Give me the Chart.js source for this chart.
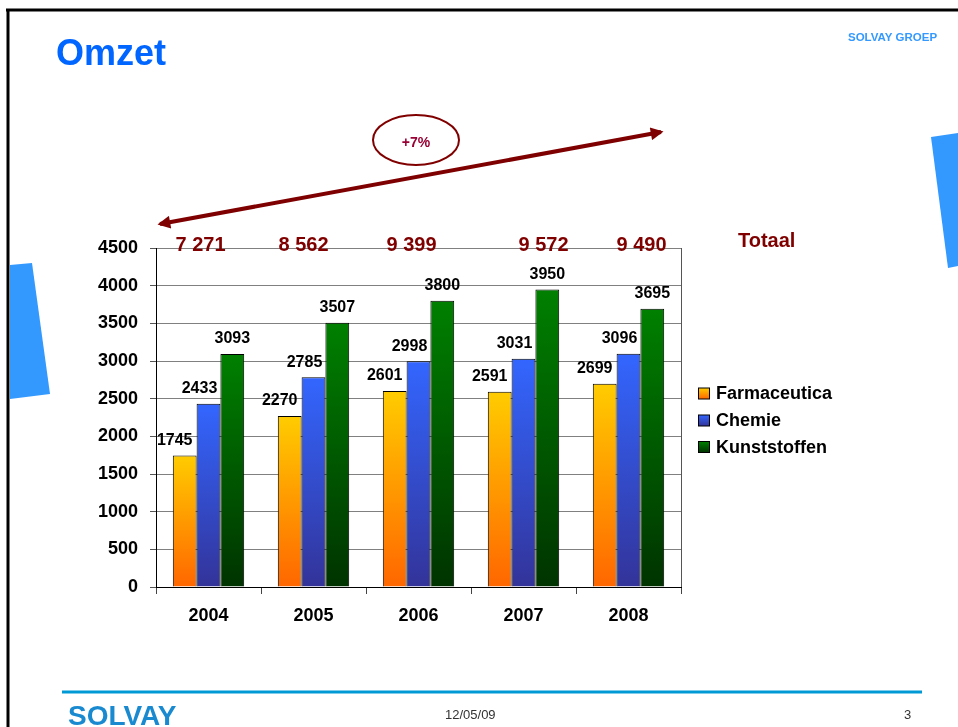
<!DOCTYPE html>
<html>
<head>
<meta charset="utf-8">
<title>Omzet</title>
<script src="https://cdn.jsdelivr.net/npm/chart.js@4.4.1/dist/chart.umd.min.js"></script>
<style>
  html, body { margin: 0; padding: 0; background: #fff; }
  #wrap { position: relative; width: 958px; height: 727px; overflow: hidden; }
  #c, #deco { position: absolute; left: 0; top: 0; }
  #deco { pointer-events: none; }
  text { font-family: "Liberation Sans", Arial, sans-serif; }
</style>
</head>
<body>
<div id="wrap">
  <canvas id="c" width="958" height="727"></canvas>
  <svg id="deco" width="958" height="727">
    <defs>
      <marker id="head" viewBox="0 0 10 10" refX="8" refY="5" markerWidth="3.6" markerHeight="3.2" orient="auto-start-reverse">
        <path d="M0,0 L10,5 L0,10 z" fill="#7f0000"/>
      </marker>
    </defs>
    <!-- slide frame -->
    <line x1="6" y1="10" x2="958" y2="10" stroke="#000" stroke-width="3"/>
    <line x1="8" y1="9" x2="8" y2="727" stroke="#000" stroke-width="3"/>
    <!-- blue decorations -->
    <polygon points="10,265 32,263 50,394 10,399" fill="#3399ff"/>
    <polygon points="931,137 958,133 958,266 948,268" fill="#3399ff"/>
    <!-- header -->
    <text x="56" y="65" font-size="36" font-weight="bold" fill="#0066ff">Omzet</text>
    <text x="848" y="41" font-size="11.5" font-weight="bold" fill="#3399ff">SOLVAY GROEP</text>
    <!-- growth arrow -->
    <line x1="160" y1="224" x2="661" y2="132" stroke="#7f0000" stroke-width="4" marker-start="url(#head)" marker-end="url(#head)"/>
    <ellipse cx="416" cy="140" rx="43" ry="25" fill="none" stroke="#800000" stroke-width="2"/>
    <text x="416" y="147" font-size="14" font-weight="bold" fill="#990033" text-anchor="middle">+7%</text>
    <text x="738" y="247" font-size="20" font-weight="bold" fill="#800000">Totaal</text>
    <!-- footer -->
    <line x1="62" y1="692" x2="922" y2="692" stroke="#0099d6" stroke-width="3"/>
    <text x="68" y="725" font-size="28" font-weight="bold" fill="#1a8ad0">SOLVAY</text>
    <text x="445" y="719" font-size="13" fill="#333">12/05/09</text>
    <text x="904" y="719" font-size="13" fill="#333">3</text>
  </svg>
</div>
<script>
const years = ['2004', '2005', '2006', '2007', '2008'];
const farmaceutica = [1745, 2270, 2601, 2591, 2699];
const chemie = [2433, 2785, 2998, 3031, 3096];
const kunststoffen = [3093, 3507, 3800, 3950, 3695];
const seriesNames = ['Farmaceutica', 'Chemie', 'Kunststoffen'];
const yMax = 4500;
const yStep = 500;

const FONT = '"Liberation Sans", Arial, sans-serif';
const colors = [
  ['#ffcc00', '#ff6600'],
  ['#3366ff', '#333399'],
  ['#008000', '#003300'],
];
// small nudges so labels sit where the slide had them
const labelShift = [-10, -9, 0];
const totalShift = [-8, -10, -7, 20, 13];

function barFill(top, bottom) {
  return function (ctx) {
    const chart = ctx.chart;
    if (ctx.type !== 'data' || !chart.chartArea) return bottom;
    const y = chart.scales.y;
    const y0 = y.getPixelForValue(ctx.parsed.y);
    const y1 = y.getPixelForValue(0);
    const g = chart.ctx.createLinearGradient(0, y0, 0, y1);
    g.addColorStop(0, top);
    g.addColorStop(1, bottom);
    return g;
  };
}

function fmt(n) {
  return String(n).replace(/\B(?=(\d{3})+(?!\d))/g, ' ');
}

const extras = {
  id: 'extras',
  afterDraw(chart) {
    const ctx = chart.ctx;
    const area = chart.chartArea;
    ctx.save();

    // right edge of the plot
    ctx.strokeStyle = '#555';
    ctx.lineWidth = 1;
    ctx.beginPath();
    ctx.moveTo(Math.round(area.right) + 0.5, area.top);
    ctx.lineTo(Math.round(area.right) + 0.5, area.bottom);
    ctx.stroke();

    // value labels
    ctx.fillStyle = '#000';
    ctx.font = 'bold 16px ' + FONT;
    ctx.textAlign = 'center';
    ctx.textBaseline = 'bottom';
    chart.data.datasets.forEach((ds, i) => {
      chart.getDatasetMeta(i).data.forEach((bar, j) => {
        ctx.fillText(ds.data[j], bar.x + labelShift[i], bar.y - 7);
      });
    });

    // totals per year
    ctx.fillStyle = '#800000';
    ctx.font = 'bold 20px ' + FONT;
    ctx.textBaseline = 'alphabetic';
    years.forEach((yr, j) => {
      const total = farmaceutica[j] + chemie[j] + kunststoffen[j];
      ctx.fillText(fmt(total), chart.scales.x.getPixelForValue(j) + totalShift[j], 251);
    });

    // legend
    const rows = [393.5, 420.5, 447];
    ctx.font = 'bold 18px ' + FONT;
    ctx.textAlign = 'left';
    ctx.textBaseline = 'middle';
    seriesNames.forEach((name, i) => {
      const y = rows[i];
      const g = ctx.createLinearGradient(0, y - 5.5, 0, y + 5.5);
      g.addColorStop(0, colors[i][0]);
      g.addColorStop(1, colors[i][1]);
      ctx.fillStyle = g;
      ctx.fillRect(698.5, y - 5.5, 11, 11);
      ctx.strokeStyle = '#000';
      ctx.strokeRect(698.5, y - 5.5, 11, 11);
      ctx.fillStyle = '#000';
      ctx.fillText(name, 716, y + 1);
    });
    ctx.restore();
  }
};

new Chart(document.getElementById('c'), {
  type: 'bar',
  data: {
    labels: years,
    datasets: [
      { label: seriesNames[0], data: farmaceutica },
      { label: seriesNames[1], data: chemie },
      { label: seriesNames[2], data: kunststoffen },
    ].map((ds, i) => Object.assign(ds, {
      backgroundColor: barFill(colors[i][0], colors[i][1]),
      borderColor: '#000',
      borderWidth: 1,
      categoryPercentage: 0.68,
      barPercentage: 1,
    })),
  },
  options: {
    responsive: false,
    animation: false,
    layout: { padding: { left: 70, top: 248, right: 277, bottom: 100 } },
    plugins: { legend: { display: false }, tooltip: { enabled: false } },
    scales: {
      x: {
        grid: { offset: true, drawOnChartArea: false, tickLength: 7, color: '#444' },
        border: { color: '#000' },
        ticks: { color: '#000', font: { family: FONT, size: 18, weight: 'bold' }, padding: 11, maxRotation: 0, autoSkip: false },
        afterFit(s) { s.height = 40; },
      },
      y: {
        min: 0,
        max: yMax,
        grid: { color: '#808080', tickColor: '#555', tickLength: 6 },
        border: { color: '#000' },
        ticks: { stepSize: yStep, color: '#000', font: { family: FONT, size: 18, weight: 'bold' }, padding: 12, callback: v => String(v) },
        afterFit(s) { s.width = 86; },
      },
    },
  },
  plugins: [extras],
});
</script>
</body>
</html>
